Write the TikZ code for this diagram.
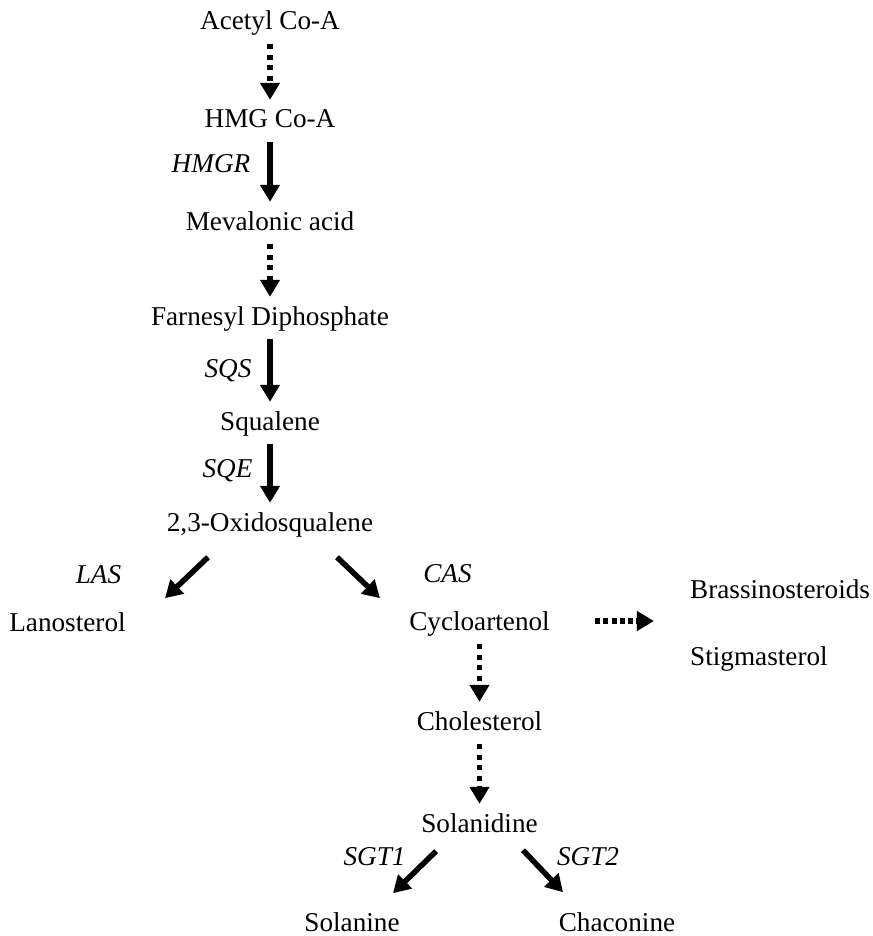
\documentclass[tikz,border=0pt]{standalone}
\usepackage{fontspec}
\setmainfont{Liberation Serif}
\usetikzlibrary{arrows.meta}
\tikzset{every node/.style={draw=none,inner sep=0pt,anchor=base,text height=19pt,text depth=4pt,font=\fontsize{27.2}{33}\selectfont},
  enzyme/.style={font=\fontsize{27.2}{33}\selectfont\itshape},
  onestep/.style={line width=5.5pt,-{Triangle[length=17pt,width=19pt]}},
  manystep/.style={onestep,dash pattern=on 5pt off 5.5pt}}

\begin{document}
\begin{tikzpicture}[x=1pt,y=-1pt]
  \useasboundingbox (0,0) rectangle (872,936);
      \node (acetyl) at (270,30) {Acetyl Co-A};
      \node (hmg) at (270,128) {HMG Co-A};
      \node (mev) at (270,230) {Mevalonic acid};
      \node (farn) at (270,325) {Farnesyl Diphosphate};
      \node (squa) at (270,430) {Squalene};
      \node (oxi) at (270,531) {2,3-Oxidosqualene};
      \node (lano) at (67.5,631) {Lanosterol};
      \node (cyclo) at (479.5,630) {Cycloartenol};
      \node[anchor=base west] (brass) at (690,598) {Brassinosteroids};
      \node[anchor=base west] (stig) at (690,665) {Stigmasterol};
      \node (chol) at (479.5,730) {Cholesterol};
      \node (sola) at (479.5,832) {Solanidine};
      \node (solanine) at (352,931) {Solanine};
      \node (chaco) at (617,931) {Chaconine};
      % enzymes
      \node[enzyme] (hmgr) at (211,173) {HMGR};
      \node[enzyme] (sqs) at (228,377) {SQS};
      \node[enzyme] (sqe) at (227.5,477) {SQE};
      \node[enzyme] (las) at (98.5,583) {LAS};
      \node[enzyme] (cas) at (447.5,582) {CAS};
      \node[enzyme] (sgt1) at (374.5,865) {SGT1};
      \node[enzyme] (sgt2) at (588,865) {SGT2};

\foreach \a/\b/\s in {acetyl/hmg/manystep,hmg/mev/onestep,mev/farn/manystep,farn/squa/onestep,squa/oxi/onestep,cyclo/chol/manystep,chol/sola/manystep}
  \draw[\s,shorten <=10pt,shorten >=9pt] (\a.south) -- (\b.north);
  \draw[onestep] (oxi.south) ++(-62,22) -- ++(-43,41);
  \draw[onestep] (oxi.south) ++(67,22) -- ++(43,41);
  \draw[manystep,dash pattern=on 5pt off 3.3pt] (cyclo.east) ++(45,-1.5) -- ++(59,0);
  \draw[onestep] (sola.south) ++(-43.5,15) -- ++(-43,42);
  \draw[onestep] (sola.south) ++(43.5,14) -- ++(40,42);
    \end{tikzpicture}
\end{document}
